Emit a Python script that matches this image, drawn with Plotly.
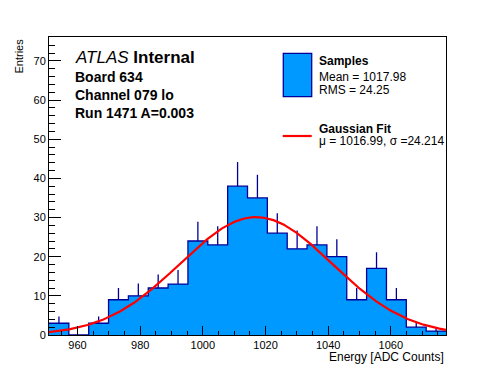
import numpy as np
import plotly.graph_objects as go

# ---- data ----
bin_counts = [3, 0, 3, 9, 10, 12, 13, 24, 23, 38, 35, 26, 22, 23, 20, 9, 17, 9, 2, 1]
hist_low = 950.9
bin_width = 6.335
fit_mu = 1016.99
fit_sigma = 24.214
fit_const = 30.1
stat_mean = "1017.98"
stat_rms = "24.25"
x_tick_vals = [960, 980, 1000, 1020, 1040, 1060]
y_tick_vals = [0, 10, 20, 30, 40, 50, 60, 70]

nb = len(bin_counts)
edges = [hist_low + bin_width * i for i in range(nb + 1)]
centers = [hist_low + bin_width * (i + 0.5) for i in range(nb)]
hist_high = edges[-1]

FILL = "#0099ff"
EDGE = "#000099"
FONT = "Liberation Sans, Arial, Helvetica, sans-serif"

OFF = 8  # browser default body margin
W, H = 496 - OFF, 372 - OFF
L, R, T, B = 49, 446, 37, 335  # page coordinates of the frame


def px_x(p):
    return (p - L) / (R - L)


def px_y(p):
    return (B - p) / (B - T)


fig = go.Figure()

# histogram as step outline with fill
step_x = edges[:-1] + [edges[-1]]
step_y = list(bin_counts) + [bin_counts[-1]]
fig.add_trace(go.Scatter(
    x=step_x, y=step_y, mode="lines", line=dict(shape="hv", color=EDGE, width=1.3),
    fill="tozeroy", fillcolor=FILL, hoverinfo="skip", showlegend=False))

# upper error bars
errs = [float(np.sqrt(c)) for c in bin_counts]
fig.add_trace(go.Scatter(
    x=centers, y=bin_counts, mode="markers", marker=dict(size=0.1, color=EDGE),
    error_y=dict(type="data", symmetric=False, array=errs, arrayminus=[0] * nb,
                 width=0, thickness=1.3, color=EDGE),
    hoverinfo="skip", showlegend=False))

# gaussian fit curve
xf = np.linspace(hist_low, hist_high, 300)
yf = fit_const * np.exp(-0.5 * ((xf - fit_mu) / fit_sigma) ** 2)
fig.add_trace(go.Scatter(x=xf, y=yf, mode="lines", line=dict(color="#ff0000", width=2.2),
                         hoverinfo="skip", showlegend=False))

fig.update_layout(
    width=W, height=H,
    margin=dict(l=L - OFF, r=W - (R - OFF), t=T - OFF, b=H - (B - OFF), pad=0),
    paper_bgcolor="white", plot_bgcolor="white",
    font=dict(family=FONT, color="black", size=11),
    showlegend=False,
)
fig.update_xaxes(
    range=[hist_low, hist_high], showgrid=False, zeroline=False,
    showline=True, linecolor="black", linewidth=1, mirror=True,
    ticks="inside", ticklen=9, tickcolor="black", tickwidth=1,
    tickvals=x_tick_vals, ticktext=[str(v) for v in x_tick_vals],
    tickfont=dict(size=11, family=FONT, color="black"),
    minor=dict(ticks="inside", ticklen=4.5, dtick=5, tick0=960, tickcolor="black", showgrid=False),
)
fig.update_yaxes(
    range=[0, 76.1], showgrid=False, zeroline=False,
    showline=True, linecolor="black", linewidth=1, mirror=True,
    ticks="inside", ticklen=12, tickcolor="black", tickwidth=1,
    tickvals=y_tick_vals, ticktext=[str(v) for v in y_tick_vals],
    tickfont=dict(size=11, family=FONT, color="black"),
    minor=dict(ticks="inside", ticklen=6, dtick=2, tick0=0, tickcolor="black", showgrid=False),
)

ann = []
# axis titles
ann.append(dict(text="Entries", x=px_x(18), y=1.0, xref="paper", yref="paper",
                xanchor="center", yanchor="top", textangle=-90, showarrow=False,
                font=dict(size=11, family=FONT)))
ann.append(dict(text="Energy [ADC Counts]", x=1.0, y=px_y(357), xref="paper", yref="paper",
                xanchor="right", yanchor="middle", showarrow=False,
                font=dict(size=12, family=FONT)))
# labels
ann.append(dict(text="<i>ATLAS</i> <b>Internal</b>", x=px_x(73), y=px_y(58), xref="paper", yref="paper",
                xanchor="left", yanchor="middle", showarrow=False, font=dict(size=17, family=FONT)))
for txt, yy in [("Board 634", 76.7), ("Channel 079 lo", 95), ("Run 1471 A=0.003", 113.3)]:
    ann.append(dict(text="<b>" + txt + "</b>", x=px_x(73), y=px_y(yy), xref="paper", yref="paper",
                    xanchor="left", yanchor="middle", showarrow=False, font=dict(size=14, family=FONT)))
# legend texts
leg = [("<b>Samples</b>", 61), ("Mean = " + stat_mean, 76.7), ("RMS = " + stat_rms, 90),
       ("<b>Gaussian Fit</b>", 129),
       ("\u03bc = " + f"{fit_mu:.2f}" + ", \u03c3 =" + f"{fit_sigma:.3f}", 141)]
for txt, yy in leg:
    ann.append(dict(text=txt, x=px_x(317), y=px_y(yy), xref="paper", yref="paper",
                    xanchor="left", yanchor="middle", showarrow=False, font=dict(size=12, family=FONT)))
fig.update_layout(annotations=ann)

fig.update_layout(shapes=[
    dict(type="rect", xref="paper", yref="paper", x0=px_x(283.3), x1=px_x(311.7),
         y0=px_y(96.7), y1=px_y(53.3), fillcolor=FILL, line=dict(color=EDGE, width=1.3)),
    dict(type="line", xref="paper", yref="paper", x0=px_x(282.7), x1=px_x(311.7),
         y0=px_y(136), y1=px_y(136), line=dict(color="#ff0000", width=2.2)),
])

fig.write_html("out.html")
